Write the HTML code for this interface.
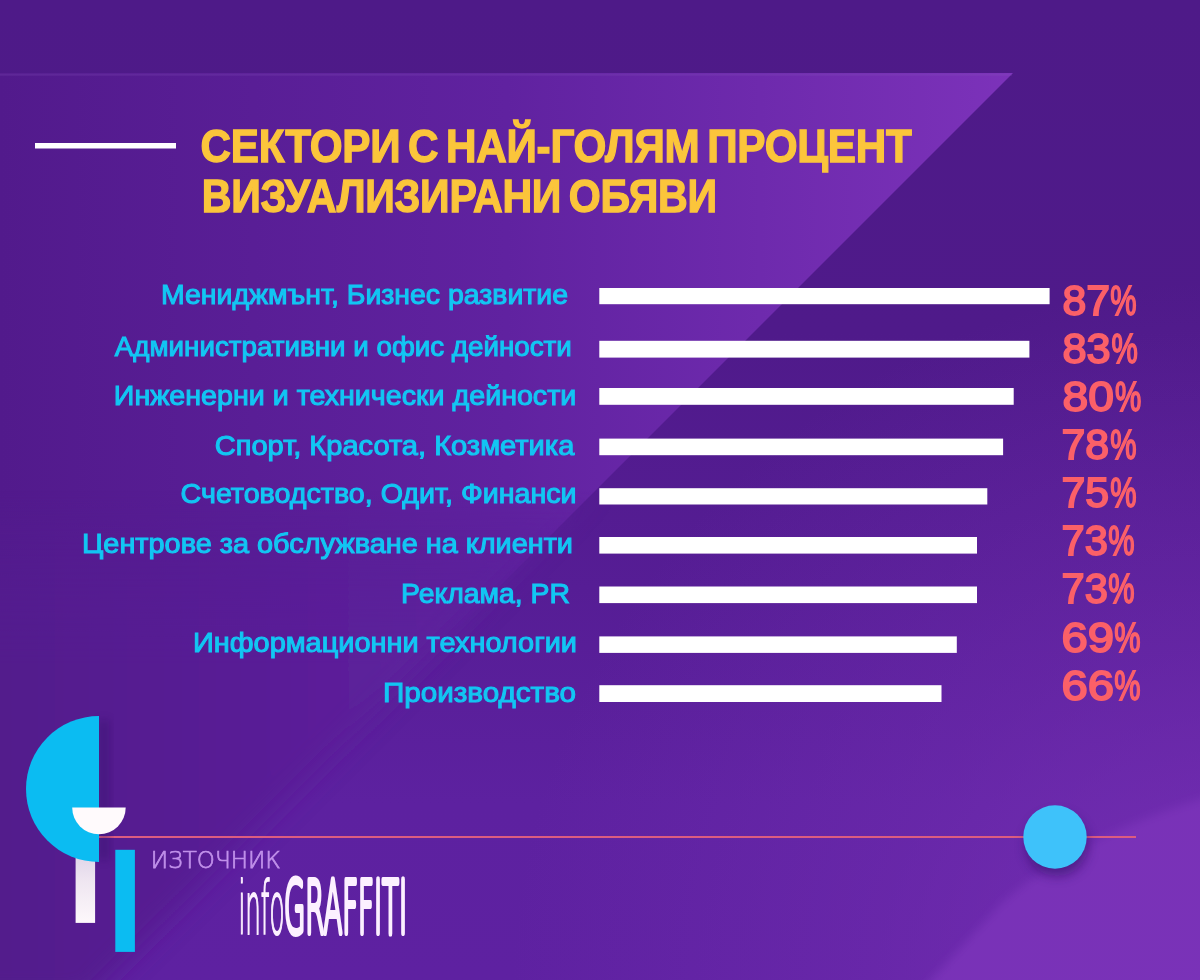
<!DOCTYPE html>
<html lang="bg">
<head>
<meta charset="utf-8">
<title>Сектори с най-голям процент визуализирани обяви</title>
<style>
html,body{margin:0;padding:0;width:1200px;height:980px;overflow:hidden;background:#4e1a88;}
svg{display:block;}
.t{font-family:"Liberation Sans",Arial,sans-serif;font-weight:700;fill:#fbc53b;stroke:#fbc53b;stroke-width:1.3px;letter-spacing:-0.3px;word-spacing:-4px;}
.l{font-family:"Liberation Sans",Arial,sans-serif;font-weight:400;fill:#12c6f3;stroke:#12c6f3;stroke-width:1.1px;}
.p{font-family:"Liberation Sans",Arial,sans-serif;font-weight:400;fill:#fb6068;stroke:#fb6068;stroke-width:1.8px;}
</style>
</head>
<body>
<svg width="1200" height="980" viewBox="0 0 1200 980">
<defs>
  <linearGradient id="base" x1="0" y1="0" x2="0" y2="980" gradientUnits="userSpaceOnUse">
    <stop offset="0" stop-color="#4e1a88"/>
    <stop offset="0.34" stop-color="#4f1a8a"/>
    <stop offset="0.6" stop-color="#561d95"/>
    <stop offset="0.82" stop-color="#5d21a0"/>
    <stop offset="1" stop-color="#5e21a1"/>
  </linearGradient>
  <linearGradient id="panel" x1="0" y1="0" x2="1013" y2="0" gradientUnits="userSpaceOnUse">
    <stop offset="0" stop-color="#521a8c"/>
    <stop offset="0.5" stop-color="#6022a0"/>
    <stop offset="1" stop-color="#7c32ba"/>
  </linearGradient>
  <radialGradient id="glowbr" cx="1230" cy="1000" r="720" gradientUnits="userSpaceOnUse">
    <stop offset="0" stop-color="#7a32b8" stop-opacity="0.85"/>
    <stop offset="0.5" stop-color="#7a32b8" stop-opacity="0.35"/>
    <stop offset="1" stop-color="#7a32b8" stop-opacity="0"/>
  </radialGradient>
  <filter id="shadow" x="-50%" y="-50%" width="200%" height="200%">
    <feGaussianBlur stdDeviation="6"/>
  </filter>
  <linearGradient id="wbar" x1="0" y1="840" x2="0" y2="923" gradientUnits="userSpaceOnUse">
    <stop offset="0" stop-color="#d8cbe4"/>
    <stop offset="0.5" stop-color="#efe6f1"/>
    <stop offset="1" stop-color="#fdf8fb"/>
  </linearGradient>
  <filter id="sh2" x="-50%" y="-50%" width="200%" height="200%">
    <feGaussianBlur stdDeviation="4"/>
  </filter>
  <linearGradient id="fadeTop" x1="0" y1="0" x2="0" y2="980" gradientUnits="userSpaceOnUse">
    <stop offset="0.5" stop-color="#fff"/>
    <stop offset="0.68" stop-color="#000"/>
  </linearGradient>
  <linearGradient id="fadeBot" x1="0" y1="0" x2="0" y2="980" gradientUnits="userSpaceOnUse">
    <stop offset="0.5" stop-color="#000"/>
    <stop offset="0.68" stop-color="#fff"/>
  </linearGradient>
  <mask id="mTop" maskUnits="userSpaceOnUse" x="0" y="0" width="1200" height="980"><rect x="0" y="0" width="1200" height="980" fill="url(#fadeTop)"/></mask>
  <mask id="mBot" maskUnits="userSpaceOnUse" x="0" y="0" width="1200" height="980"><rect x="0" y="0" width="1200" height="980" fill="url(#fadeBot)"/></mask>
  <filter id="pblur" x="-5%" y="-5%" width="110%" height="110%">
    <feGaussianBlur stdDeviation="12"/>
  </filter>
  <filter id="soft" x="-20%" y="-20%" width="140%" height="140%">
    <feGaussianBlur stdDeviation="5"/>
  </filter>
</defs>
<rect x="0" y="0" width="1200" height="980" fill="url(#base)"/>
<polygon points="0,73 1013,73 106,980 0,980" fill="url(#panel)" mask="url(#mTop)"/>
<rect x="0" y="73.5" width="1012" height="2.2" fill="#8a55c0" opacity="0.22"/>
<g mask="url(#mBot)"><polygon points="-40,73 1013,73 86,1000 -40,1000" fill="url(#panel)" filter="url(#pblur)"/></g>
<path d="M922,990 L1003,902 Q1080,835 1215,795 L1215,990 Z" fill="#7833b7" filter="url(#soft)"/>
<rect x="0" y="0" width="1200" height="980" fill="url(#glowbr)"/>

<!-- title -->
<rect x="35" y="143" width="141" height="5.5" fill="#ffffff"/>
<text class="t" x="200.5" y="162.2" font-size="45.6" textLength="711" lengthAdjust="spacingAndGlyphs">СЕКТОРИ С НАЙ-ГОЛЯМ ПРОЦЕНТ</text>
<text class="t" x="201.8" y="211.7" font-size="45.6" textLength="515" lengthAdjust="spacingAndGlyphs">ВИЗУАЛИЗИРАНИ ОБЯВИ</text>

<!-- labels -->
<g class="l" font-size="28.5">
<text x="161.0" y="304.2" textLength="407.0" lengthAdjust="spacingAndGlyphs">Мениджмънт, Бизнес развитие</text>
<text x="114.8" y="355.7" textLength="457.0" lengthAdjust="spacingAndGlyphs">Административни и офис дейности</text>
<text x="113.8" y="404.7" textLength="462.5" lengthAdjust="spacingAndGlyphs">Инженерни и технически дейности</text>
<text x="214.8" y="454.7" textLength="359.5" lengthAdjust="spacingAndGlyphs">Спорт, Красота, Козметика</text>
<text x="180.6" y="502.7" textLength="396.0" lengthAdjust="spacingAndGlyphs">Счетоводство, Одит, Финанси</text>
<text x="82.0" y="553" textLength="491.0" lengthAdjust="spacingAndGlyphs">Центрове за обслужване на клиенти</text>
<text x="401.0" y="602.5" textLength="169.0" lengthAdjust="spacingAndGlyphs">Реклама, PR</text>
<text x="193.0" y="652" textLength="384.0" lengthAdjust="spacingAndGlyphs">Информационни технологии</text>
<text x="383.0" y="701.5" textLength="193.0" lengthAdjust="spacingAndGlyphs">Производство</text>
</g>

<!-- bars -->
<g fill="#ffffff">
<rect x="599.3" y="288" width="450.3" height="16.2"/>
<rect x="599.3" y="340.8" width="430.1" height="16.8"/>
<rect x="599.3" y="388" width="414.4" height="16.8"/>
<rect x="599.3" y="438.6" width="403.8" height="16.6"/>
<rect x="599.3" y="488.2" width="388" height="16.3"/>
<rect x="599.3" y="537" width="377.7" height="16.6"/>
<rect x="599.3" y="586.5" width="377.7" height="16.6"/>
<rect x="599.3" y="636.4" width="357.5" height="16.5"/>
<rect x="599.3" y="685.2" width="342.2" height="16.8"/>
</g>

<!-- percents -->
<g class="p" font-size="42.3">
<text x="1062.5" y="314.5"><tspan textLength="47.6" lengthAdjust="spacingAndGlyphs">87</tspan><tspan x="1110.3" textLength="26.3" lengthAdjust="spacingAndGlyphs">%</tspan></text>
<text x="1062.5" y="363.0"><tspan textLength="48.2" lengthAdjust="spacingAndGlyphs">83</tspan><tspan x="1111.5" textLength="26.3" lengthAdjust="spacingAndGlyphs">%</tspan></text>
<text x="1062.5" y="411.4"><tspan textLength="51.4" lengthAdjust="spacingAndGlyphs">80</tspan><tspan x="1114.9" textLength="26.3" lengthAdjust="spacingAndGlyphs">%</tspan></text>
<text x="1061.5" y="458.9"><tspan textLength="47.6" lengthAdjust="spacingAndGlyphs">78</tspan><tspan x="1110.3" textLength="26.3" lengthAdjust="spacingAndGlyphs">%</tspan></text>
<text x="1061.5" y="507.1"><tspan textLength="47.6" lengthAdjust="spacingAndGlyphs">75</tspan><tspan x="1110.3" textLength="26.3" lengthAdjust="spacingAndGlyphs">%</tspan></text>
<text x="1061.5" y="555.2"><tspan textLength="46.3" lengthAdjust="spacingAndGlyphs">73</tspan><tspan x="1108.2" textLength="26.3" lengthAdjust="spacingAndGlyphs">%</tspan></text>
<text x="1061.5" y="603.2"><tspan textLength="46.3" lengthAdjust="spacingAndGlyphs">73</tspan><tspan x="1108.2" textLength="26.3" lengthAdjust="spacingAndGlyphs">%</tspan></text>
<text x="1061.5" y="652.2"><tspan textLength="52.6" lengthAdjust="spacingAndGlyphs">69</tspan><tspan x="1114.3" textLength="26.3" lengthAdjust="spacingAndGlyphs">%</tspan></text>
<text x="1061.5" y="700.1"><tspan textLength="52.6" lengthAdjust="spacingAndGlyphs">66</tspan><tspan x="1114.3" textLength="26.3" lengthAdjust="spacingAndGlyphs">%</tspan></text>
</g>

<!-- footer line + circle -->
<rect x="99" y="836" width="1037" height="2" fill="#dc5c80"/>
<circle cx="1057" cy="845" r="31" fill="#2a0a60" opacity="0.55" filter="url(#shadow)"/>
<circle cx="1055" cy="837" r="31.7" fill="#3ec2fa"/>

<!-- logo decoration -->
<rect x="99" y="720" width="10" height="140" fill="#2a0860" opacity="0.35" filter="url(#sh2)"/>
<rect x="75.6" y="840" width="19.5" height="82.9" fill="url(#wbar)"/>
<path d="M99,716 A73,73 0 0 0 99,862 Z" fill="#0bbcf2"/>
<path d="M72.2,807.6 A26.75,26.75 0 0 0 125.7,807.6 Z" fill="#fffafc"/>
<rect x="115.3" y="849.8" width="19.6" height="102.1" fill="#0bbcf2"/>

<text x="150.8" y="867.9" font-family="'DejaVu Sans','Liberation Sans',sans-serif" font-weight="200" font-size="23.5" fill="#c090ea" stroke="#c090ea" stroke-width="0.75" textLength="130" lengthAdjust="spacingAndGlyphs">ИЗТОЧНИК</text>
<text x="238.5" y="933.7" font-family="'DejaVu Sans','Liberation Sans',sans-serif" font-weight="200" font-size="72.5" fill="#fcf0ff" stroke="#fcf0ff" stroke-width="2.1" textLength="46" lengthAdjust="spacingAndGlyphs">info</text>
<g transform="translate(284.0,0) scale(0.375,1)"><text x="0" y="933.2" font-family="'DejaVu Sans','Liberation Sans',sans-serif" font-weight="200" font-size="73.5" fill="#fcf0ff" stroke="#fcf0ff" stroke-width="4.6" vector-effect="non-scaling-stroke" stroke-linejoin="round">GRAFFITI</text></g>
</svg>
</body>
</html>
